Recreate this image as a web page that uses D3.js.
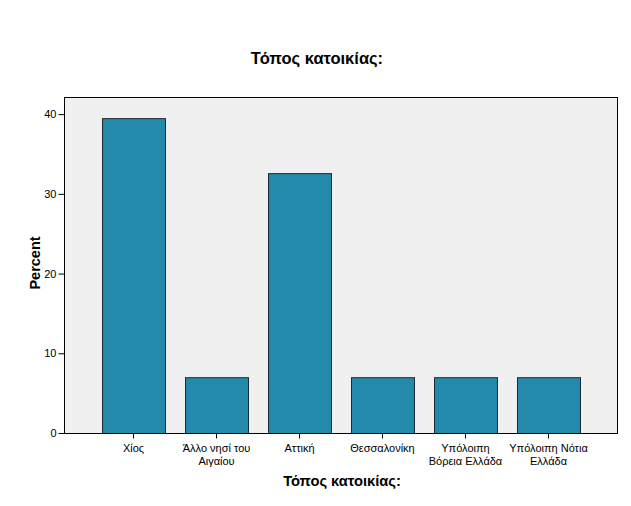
<!DOCTYPE html>
<html>
<head>
<meta charset="utf-8">
<script src="https://cdn.jsdelivr.net/npm/d3@7"></script>
<style>
body{margin:0;background:#fff;}
svg text{font-family:"Liberation Sans",Arial,sans-serif;fill:#000;}
</style>
</head>
<body>
<svg id="c" width="631" height="506"></svg>
<script>
const categories = ["Χίος", "Άλλο νησί του|Αιγαίου", "Αττική", "Θεσσαλονίκη", "Υπόλοιπη|Βόρεια Ελλάδα", "Υπόλοιπη Νότια|Ελλάδα"];
const percents = [39.5, 7.0, 32.6, 7.0, 7.0, 7.0];
const yTicks = [0, 10, 20, 30, 40];
const title = "Τόπος κατοικίας:";
const xTitle = "Τόπος κατοικίας:";
const yTitle = "Percent";

const svg = d3.select("#c");
const L = 64, R = 618, T = 97, B = 433;

const x = d3.scaleBand().domain(categories).range([L, R]).paddingInner(0.241).paddingOuter(0.458);
const y = d3.scaleLinear().domain([0, 42.15]).range([B, T]);

svg.append("rect").attr("x", L).attr("y", T).attr("width", R - L).attr("height", B - T)
  .attr("fill", "#f0f0f0").attr("stroke", "none");

svg.selectAll("rect.bar").data(categories).enter().append("rect")
  .attr("class", "bar")
  .attr("x", d => x(d) + 0.5)
  .attr("y", (d, i) => y(percents[i]) + 0.5)
  .attr("width", x.bandwidth())
  .attr("height", (d, i) => B - y(percents[i]))
  .attr("fill", "#248aab")
  .attr("stroke", "#1c2a33")
  .attr("stroke-width", 1);

svg.append("rect").attr("x", L + 0.5).attr("y", T + 0.5).attr("width", R - L - 1).attr("height", B - T)
  .attr("fill", "none").attr("stroke", "#000").attr("stroke-width", 1);

const ya = svg.append("g").attr("transform", `translate(${L + 0.5},0)`)
  .call(d3.axisLeft(y).tickValues(yTicks).tickSize(6).tickPadding(2).tickFormat(d3.format("d")));
ya.select(".domain").remove();
ya.selectAll("text").attr("font-size", 11).style("font-family", "Liberation Sans, Arial, sans-serif");

const xa = svg.append("g").attr("transform", `translate(0,${B + 0.5})`)
  .call(d3.axisBottom(x).tickSize(5).tickFormat(""));
xa.select(".domain").remove();
xa.selectAll(".tick").each(function(d) {
  const lines = d.split("|");
  const t = d3.select(this).append("text").attr("font-size", 11).attr("text-anchor", "middle").attr("fill", "#000");
  lines.forEach((ln, i) => t.append("tspan").attr("x", 0).attr("y", 18.5 + i * 13).text(ln));
});

svg.append("text").attr("x", 317).attr("y", 64).attr("text-anchor", "middle")
  .attr("font-size", 16.5).attr("font-weight", "bold").text(title);
svg.append("text").attr("x", 342).attr("y", 486).attr("text-anchor", "middle")
  .attr("font-size", 14.7).attr("font-weight", "bold").text(xTitle);
svg.append("text").attr("transform", `translate(40,263) rotate(-90)`).attr("text-anchor", "middle")
  .attr("font-size", 14.5).attr("font-weight", "bold").text(yTitle);
</script>
</body>
</html>
